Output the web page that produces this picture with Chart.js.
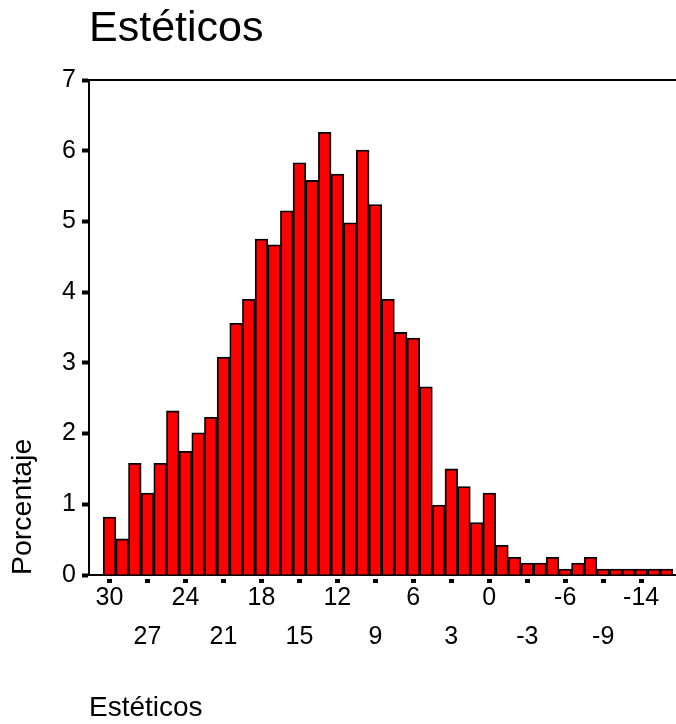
<!DOCTYPE html>
<html>
<head>
<meta charset="utf-8">
<script src="https://cdn.jsdelivr.net/npm/chart.js@4/dist/chart.umd.min.js"></script>
<style>
  html, body { margin: 0; padding: 0; background: #ffffff; overflow: hidden; }
  #wrap { width: 676px; height: 724px; position: relative; }
</style>
</head>
<body>
<div id="wrap"><canvas id="c"></canvas></div>
<script>
// Category values (bar order, left to right)
const categories = ['30','29','28','27','26','25','24','23','22','21','20','19','18','17','16','15','14','13','12','11','10','9','8','7','6','5','4','3','2','1','0','-1','-2','-3','-4','-5','-6','-7','-8','-9','-10','-12','-14','-16','-17'];
// Percentage per category
const percentages = [0.82,0.51,1.58,1.16,1.58,2.32,1.75,2.01,2.23,3.08,3.56,3.90,4.75,4.67,5.15,5.83,5.58,6.26,5.67,4.98,6.01,5.24,3.90,3.43,3.35,2.66,0.99,1.50,1.25,0.74,1.16,0.42,0.25,0.17,0.17,0.25,0.085,0.17,0.25,0.085,0.085,0.085,0.085,0.085,0.085];
const yTicks = [0,1,2,3,4,5,6,7];
const titleText = 'Estéticos';
const xTitle = 'Estéticos';
const yTitle = 'Porcentaje';

const FONT = "'Liberation Sans', Arial, Helvetica, sans-serif";
const points = categories.map((c, i) => ({ x: i, y: percentages[i] }));
const xMin = -1.62, xMax = 44.75;

new Chart(document.getElementById('c'), {
  type: 'bar',
  data: {
    datasets: [{
      data: points,
      backgroundColor: '#ff0000',
      borderColor: '#000000',
      borderWidth: 1.8,
      barPercentage: 1,
      categoryPercentage: 1
    }]
  },
  options: {
    responsive: true,
    maintainAspectRatio: false,
    animation: false,
    layout: { padding: { left: 0, right: 0, top: 0, bottom: 0 } },
    plugins: {
      legend: { display: false },
      tooltip: { enabled: false },
      title: {
        display: true,
        text: titleText,
        align: 'start',
        fullSize: false,
        color: '#000000',
        font: { family: FONT, size: 43, weight: 'normal', lineHeight: 1.2 },
        padding: { top: 3, bottom: 25.4 }
      }
    },
    scales: {
      x: {
        type: 'linear',
        position: 'bottom',
        offset: false,
        min: xMin,
        max: xMax,
        afterFit: (s) => { s.height = 149; },
        border: { display: true, color: '#000000', width: 2 },
        grid: {
          display: true,
          offset: false,
          drawOnChartArea: false,
          drawTicks: true,
          tickLength: 9,
          tickWidth: 5,
          tickColor: '#000000',
          tickBorderDash: [0, 3, 4, 100]
        },
        ticks: {
          stepSize: 3,
          maxTicksLimit: 100,
          includeBounds: false,
          autoSkip: false,
          maxRotation: 0,
          minRotation: 0,
          color: '#000000',
          padding: -6,
          font: { family: FONT, size: 25, lineHeight: 1.58 },
          callback: (v) => {
            const i = Math.round(v);
            if (Math.abs(v - i) > 1e-6 || !categories[i]) return '';
            return (i % 6 === 0) ? [categories[i], ''] : ['', categories[i]];
          }
        },
        title: {
          display: true,
          text: xTitle,
          align: 'start',
          color: '#000000',
          font: { family: FONT, size: 28, lineHeight: 1.1 },
          padding: { top: 0, bottom: 0 }
        }
      },
      x2: {
        type: 'linear',
        position: 'top',
        display: true,
        offset: false,
        min: xMin,
        max: xMax,
        border: { display: true, color: '#000000', width: 2 },
        grid: { display: false, drawTicks: false },
        ticks: { display: false }
      },
      y: {
        type: 'linear',
        min: yTicks[0],
        max: yTicks[yTicks.length - 1],
        afterFit: (s) => { s.width = 89; },
        border: { display: true, color: '#000000', width: 2 },
        grid: {
          display: true,
          drawOnChartArea: false,
          drawTicks: true,
          tickLength: 7,
          tickWidth: 4,
          tickColor: '#000000'
        },
        afterBuildTicks: (s) => { s.ticks = yTicks.map(v => ({ value: v })); },
        ticks: {
          color: '#000000',
          padding: 6,
          font: { family: FONT, size: 25 },
          callback: (v) => String(v)
        },
        title: {
          display: true,
          text: yTitle,
          align: 'start',
          color: '#000000',
          font: { family: FONT, size: 28.5, lineHeight: 1.2 },
          padding: { top: 6, bottom: 0 }
        }
      }
    }
  }
});
</script>
</body>
</html>
